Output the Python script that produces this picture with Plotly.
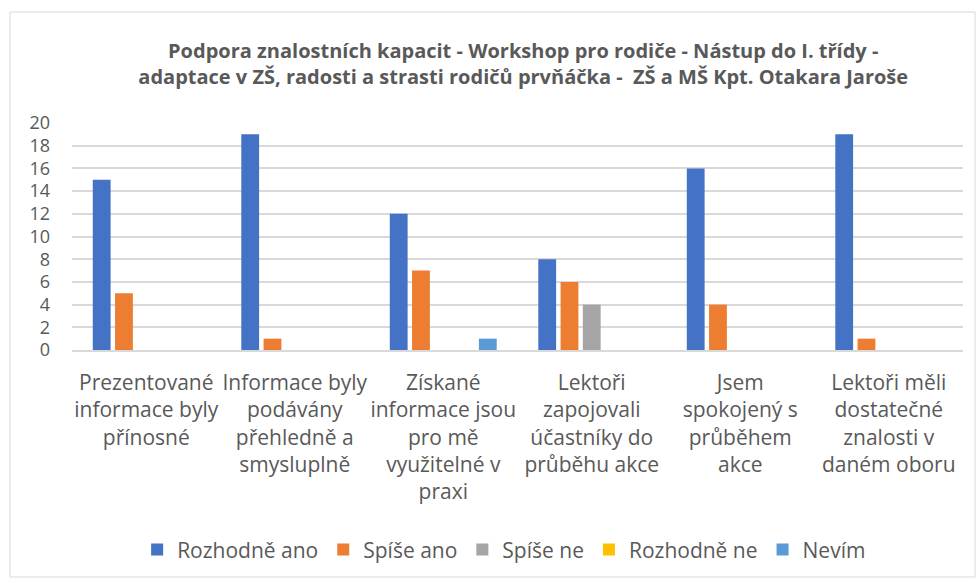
import plotly.graph_objects as go

categories = [
    "Prezentované<br>informace byly<br>přínosné",
    "Informace byly<br>podávány<br>přehledně a<br>smysluplně",
    "Získané<br>informace jsou<br>pro mě<br>využitelné v<br>praxi",
    "Lektoři<br>zapojovali<br>účastníky do<br>průběhu akce",
    "Jsem<br>spokojený s<br>průběhem<br>akce",
    "Lektoři měli<br>dostatečné<br>znalosti v<br>daném oboru",
]
rozhodne_ano = [15, 19, 12, 8, 16, 19]
spise_ano = [5, 1, 7, 6, 4, 1]
spise_ne = [0, 0, 0, 4, 0, 0]
rozhodne_ne = [0, 0, 0, 0, 0, 0]
nevim = [0, 0, 1, 0, 0, 0]

series = [
    ("Rozhodně ano", rozhodne_ano, "#4472C4"),
    ("Spíše ano", spise_ano, "#ED7D31"),
    ("Spíše ne", spise_ne, "#A5A5A5"),
    ("Rozhodně ne", rozhodne_ne, "#FFC000"),
    ("Nevím", nevim, "#5B9BD5"),
]

FONT = "Open Sans, Liberation Sans, sans-serif"
GRAY = "#595959"

fig = go.Figure()
for name, vals, col in series:
    fig.add_trace(go.Bar(x=categories, y=vals, name=name, marker_color=col,
                         marker_line_width=0))

fig.update_layout(
    width=978, height=583,
    margin=dict(l=72, r=15, t=123, b=233),
    paper_bgcolor="white", plot_bgcolor="white",
    font=dict(family=FONT, color=GRAY, size=18),
    title=dict(
        text="<b>Podpora znalostních kapacit - Workshop pro rodiče - Nástup do I. třídy -<br>adaptace v ZŠ, radosti a strasti rodičů prvňáčka -  ZŠ a MŠ Kpt. Otakara Jaroše</b>",
        x=0.535, xanchor="center", y=0.90, yanchor="middle",
        font=dict(family=FONT, size=20, color=GRAY),
    ),
    barmode="group", bargap=0.25, bargroupgap=0.2,
    legend=dict(orientation="h", x=0.485, xanchor="center", y=-0.88, yanchor="middle",
                font=dict(size=21, color=GRAY), itemwidth=30, traceorder="normal"),
    showlegend=True,
)
fig.update_yaxes(range=[0, 20], dtick=2, showgrid=True, gridcolor="#D9D9D9", gridwidth=1.5,
                 zeroline=False, showline=False, tickfont=dict(size=18, color=GRAY),
                 ticklabelstandoff=21)
fig.update_xaxes(showline=True, linecolor="#D9D9D9", linewidth=1.5, ticks="",
                 tickfont=dict(size=21, color=GRAY), tickangle=0, ticklabelstandoff=13)

fig.add_shape(type="rect", xref="paper", yref="paper",
              x0=-0.0696, x1=1.0135, y0=-1.0, y1=1.489,
              line=dict(color="#D9D9D9", width=1), fillcolor="rgba(0,0,0,0)", layer="below")

fig.write_html("out.html", post_script="document.body.style.margin='0';",
               config={"displayModeBar": False})
